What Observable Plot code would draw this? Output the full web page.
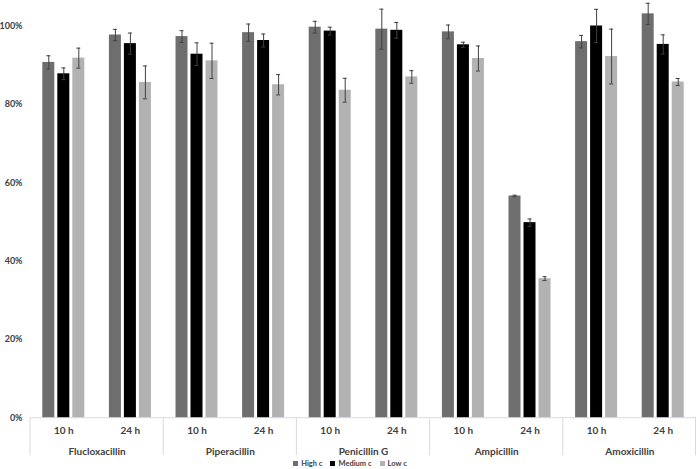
<!DOCTYPE html>
<html>
<head>
<meta charset="utf-8">
<script src="https://cdn.jsdelivr.net/npm/d3@7"></script>
<script src="https://cdn.jsdelivr.net/npm/@observablehq/plot@0.6"></script>
<style>
  html, body { margin: 0; padding: 0; background: #fff; }
  #legend { display: flex; justify-content: center; align-items: center; height: 11px; font: bold 7.5px Lato, sans-serif; color: #404040; padding-left: 4px; }
  #legend span.item { display: inline-flex; align-items: center; margin: 0 4px; }
  #legend span.sw { display: inline-block; width: 5px; height: 5px; margin-right: 3px; }
</style>
</head>
<body>
<div id="chart"></div>
<div id="legend"></div>
<script>
// ---- data (in percent) ----
const drugs = ["Flucloxacillin", "Piperacillin", "Penicillin G", "Ampicillin", "Amoxicillin"];
const times = ["10 h", "24 h"];
const series = ["High c", "Medium c", "Low c"];
const colors = ["#6e6e6e", "#000000", "#b2b2b2"];
const yTicks = [0, 0.2, 0.4, 0.6, 0.8, 1.0];

// order: Fluclox 10h, 24h, Pip 10h, 24h, PenG 10h, 24h, Amp 10h, 24h, Amox 10h, 24h
const highVals = [90.7, 97.7, 97.3, 98.3, 99.7, 99.2, 98.5, 56.6, 96.0, 103.1];
const highErr  = [1.7, 1.45, 1.5, 2.2, 1.5, 5.1, 1.75, 0.2, 1.6, 2.7];
const medVals  = [87.8, 95.5, 92.8, 96.3, 98.7, 98.9, 95.2, 49.8, 100.0, 95.3];
const medErr   = [1.5, 2.7, 2.9, 1.65, 1.0, 2.0, 0.65, 0.95, 4.25, 2.45];
const lowVals  = [91.8, 85.6, 91.1, 85.0, 83.6, 87.0, 91.7, 35.5, 92.2, 85.7];
const lowErr   = [2.55, 4.2, 4.5, 2.6, 3.05, 1.6, 3.2, 0.5, 7.0, 0.9];

const vals = [highVals, medVals, lowVals];
const errs = [highErr, medErr, lowErr];

const keys = [];
const rows = [];
drugs.forEach((d, i) => times.forEach((t, j) => {
  const key = d + "|" + t;
  keys.push(key);
  series.forEach((s, k) => {
    const idx = i * times.length + j;
    rows.push({key, drug: d, time: t, series: s, value: vals[k][idx] / 100, err: errs[k][idx] / 100});
  });
}));

const chart = Plot.plot({
  width: 696,
  height: 458,
  marginLeft: 30,
  marginRight: 0,
  marginTop: 25.5,
  marginBottom: 40.8,
  style: {fontFamily: "Lato, sans-serif", fontWeight: "bold", fontSize: "10px", color: "#404040", background: "white"},
  fx: {domain: keys, padding: 0, round: false, axis: "bottom", tickSize: 0, tickPadding: 9, tickFormat: k => k.split("|")[1], label: null},
  x: {domain: series, paddingInner: 0.2, paddingOuter: 0.82, round: false, axis: null},
  y: {domain: [0, 1], label: null},
  color: {domain: series, range: colors},
  marks: [
    Plot.axisY({ticks: yTicks, tickFormat: d3.format(".0%"), tickSize: 0, tickPadding: 8, fontSize: 9, label: null, fill: "#404040"}),
    Plot.ruleY([0], {stroke: "#d9d9d9"}),
    Plot.barY(rows, {fx: "key", x: "series", y: "value", fill: "series"}),
    Plot.ruleX(rows, {fx: "key", x: "series", y1: d => d.value - d.err, y2: d => d.value + d.err, stroke: "#404040", strokeWidth: 1}),
    Plot.tickY(rows, {fx: "key", x: "series", y: d => d.value - d.err, insetLeft: 4, insetRight: 4, stroke: "#404040", strokeWidth: 1}),
    Plot.tickY(rows, {fx: "key", x: "series", y: d => d.value + d.err, insetLeft: 4, insetRight: 4, stroke: "#404040", strokeWidth: 1}),
    Plot.text(drugs, {fx: d => d + "|10 h", text: d => d, frameAnchor: "bottom-right", textAnchor: "middle", lineAnchor: "middle", dy: 34, fill: "#404040"})
  ]
});
document.getElementById("chart").appendChild(chart);

// group separators, positioned with Plot's own fx / y scales
const fxs = chart.scale("fx");
const ys = chart.scale("y");
const y0 = ys.apply(0);
const edges = drugs.map(d => fxs.apply(d + "|10 h"));
edges.push(fxs.apply(keys[keys.length - 1]) + fxs.bandwidth - 0.5);
d3.select(chart).append("g")
  .attr("stroke", "#d9d9d9")
  .selectAll("line").data(edges).join("line")
  .attr("x1", d => d).attr("x2", d => d)
  .attr("y1", y0).attr("y2", y0 + 38);

// legend
const leg = document.getElementById("legend");
series.forEach((s, k) => {
  const item = document.createElement("span");
  item.className = "item";
  const sw = document.createElement("span");
  sw.className = "sw";
  sw.style.background = colors[k];
  item.appendChild(sw);
  item.appendChild(document.createTextNode(s));
  leg.appendChild(item);
});
</script>
</body>
</html>
